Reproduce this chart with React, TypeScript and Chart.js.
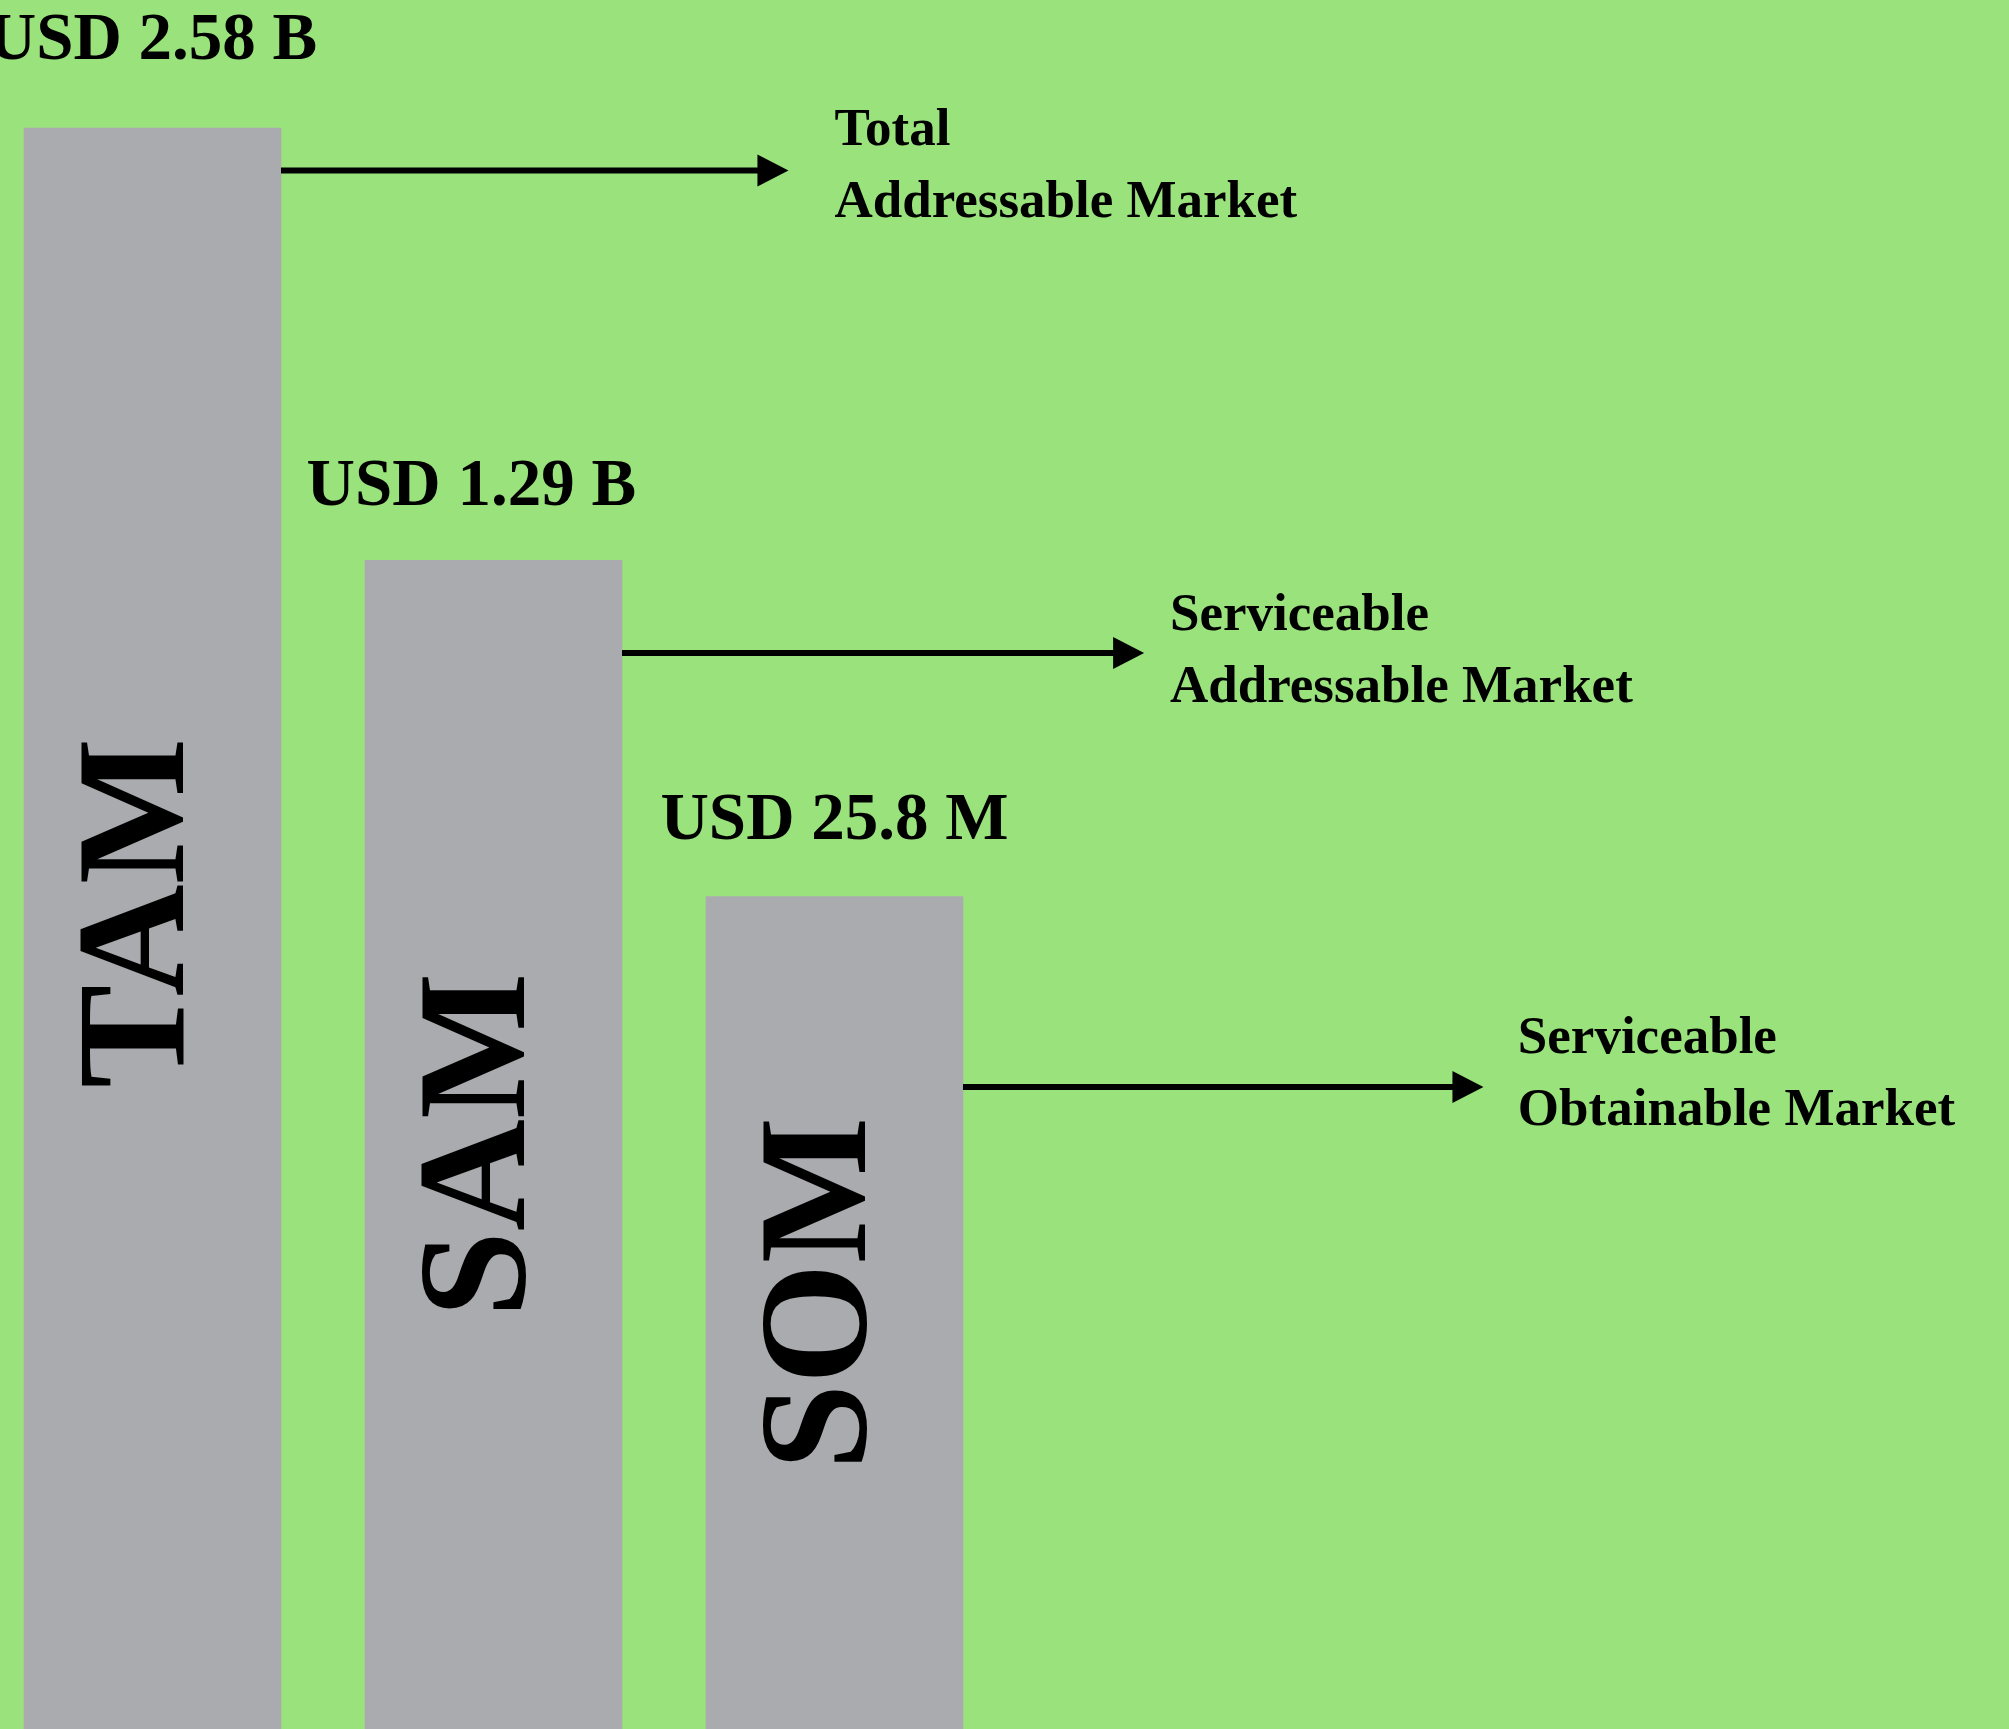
import React, { useEffect, useRef } from "react";
import { Chart, registerables } from "chart.js";

Chart.register(...registerables);

// ---- Data ----
const categories = ["TAM", "SAM", "SOM"];
const barHeights = [100, 73, 52]; // illustrative relative heights of the bars
const marketValues = ["USD 2.58 B", "USD 1.29 B", "USD 25.8 M"];
const descLine1 = ["Total", "Serviceable", "Serviceable"];
const descLine2 = ["Addressable Market", "Addressable Market", "Obtainable Market"];

// ---- Annotation layout (in scale units, kept apart from the data) ----
const valueLabelX = [0, 0.935, 2.0];
const valueLabelY = [104.3, 76.46, 55.6];
const nameLabelY = [50.97, 36.48, 27.2];
const calloutArrowY = [97.35, 67.21, 40.1];
const calloutArrowTipX = [1.865, 2.908, 3.903];
const calloutTextX = [2.0, 2.984, 4.004];
const calloutTextY = [98.94, 68.65, 42.23];

const W = 2009;
const H = 1729;
const GREEN = "#9ae27c";
const GRAY = "#aaabaf";
const SERIF = "'Liberation Serif', 'Times New Roman', Times, serif";

const decorPlugin = {
  id: "decor",
  beforeDraw(chart: any) {
    const ctx = chart.ctx;
    ctx.save();
    ctx.fillStyle = GREEN;
    ctx.fillRect(0, 0, chart.width, chart.height);
    ctx.restore();
  },
  afterDatasetsDraw(chart: any) {
    const ctx = chart.ctx;
    const xs = chart.scales.x;
    const ys = chart.scales.y;
    const meta = chart.getDatasetMeta(0);
    ctx.save();
    ctx.fillStyle = "#000";
    ctx.strokeStyle = "#000";
    meta.data.forEach((bar: any, i: number) => {
      const cx = bar.x;
      const right = bar.x + bar.width / 2;

      // value label above bar
      ctx.font = `bold 67px ${SERIF}`;
      ctx.textAlign = "center";
      ctx.textBaseline = "alphabetic";
      ctx.fillText(marketValues[i], xs.getPixelForValue(valueLabelX[i]), ys.getPixelForValue(valueLabelY[i]));

      // rotated category label inside bar
      ctx.save();
      ctx.translate(cx, ys.getPixelForValue(nameLabelY[i]));
      ctx.rotate(-Math.PI / 2);
      ctx.font = `bold 155px ${SERIF}`;
      ctx.textAlign = "center";
      ctx.textBaseline = "alphabetic";
      ctx.fillText(categories[i], 0, 31);
      ctx.restore();

      // arrow
      const ay = ys.getPixelForValue(calloutArrowY[i]);
      const tip = xs.getPixelForValue(calloutArrowTipX[i]);
      const head = 31;
      ctx.lineWidth = 6;
      ctx.beginPath();
      ctx.moveTo(right, ay);
      ctx.lineTo(tip - head + 2, ay);
      ctx.stroke();
      ctx.beginPath();
      ctx.moveTo(tip, ay);
      ctx.lineTo(tip - head, ay - 16);
      ctx.lineTo(tip - head, ay + 16);
      ctx.closePath();
      ctx.fill();

      // description
      const tx = xs.getPixelForValue(calloutTextX[i]);
      const ty = ys.getPixelForValue(calloutTextY[i]);
      ctx.font = `bold 53px ${SERIF}`;
      ctx.textAlign = "left";
      ctx.textBaseline = "alphabetic";
      ctx.fillText(descLine1[i], tx, ty);
      ctx.fillText(descLine2[i], tx, ty + 72);
    });
    ctx.restore();
  },
};

export default function App() {
  const ref = useRef<HTMLCanvasElement | null>(null);
  useEffect(() => {
    document.body.style.margin = "0";
    const canvas = ref.current;
    if (!canvas) return;
    const chart = new Chart(canvas, {
      type: "bar",
      data: {
        datasets: [
          {
            data: categories.map((c, i) => ({ x: i, y: barHeights[i] })),
            backgroundColor: GRAY,
            borderWidth: 0,
            barThickness: 257,
          } as any,
        ],
      },
      options: {
        animation: false,
        responsive: false,
        devicePixelRatio: 1,
        layout: { padding: 0 },
        plugins: {
          legend: { display: false },
          tooltip: { enabled: false },
          title: { display: false },
        },
        scales: {
          x: {
            type: "linear",
            min: -0.4472,
            max: 5.4443,
            display: false,
            offset: false,
          },
          y: {
            type: "linear",
            min: 0,
            max: 108,
            display: false,
          },
        },
      } as any,
      plugins: [decorPlugin],
    });
    return () => chart.destroy();
  }, []);
  return (
    <div style={{ position: "absolute", left: 0, top: 0, width: W, height: H }}>
      <canvas ref={ref} width={W} height={H} style={{ display: "block", width: W, height: H }} />
    </div>
  );
}
